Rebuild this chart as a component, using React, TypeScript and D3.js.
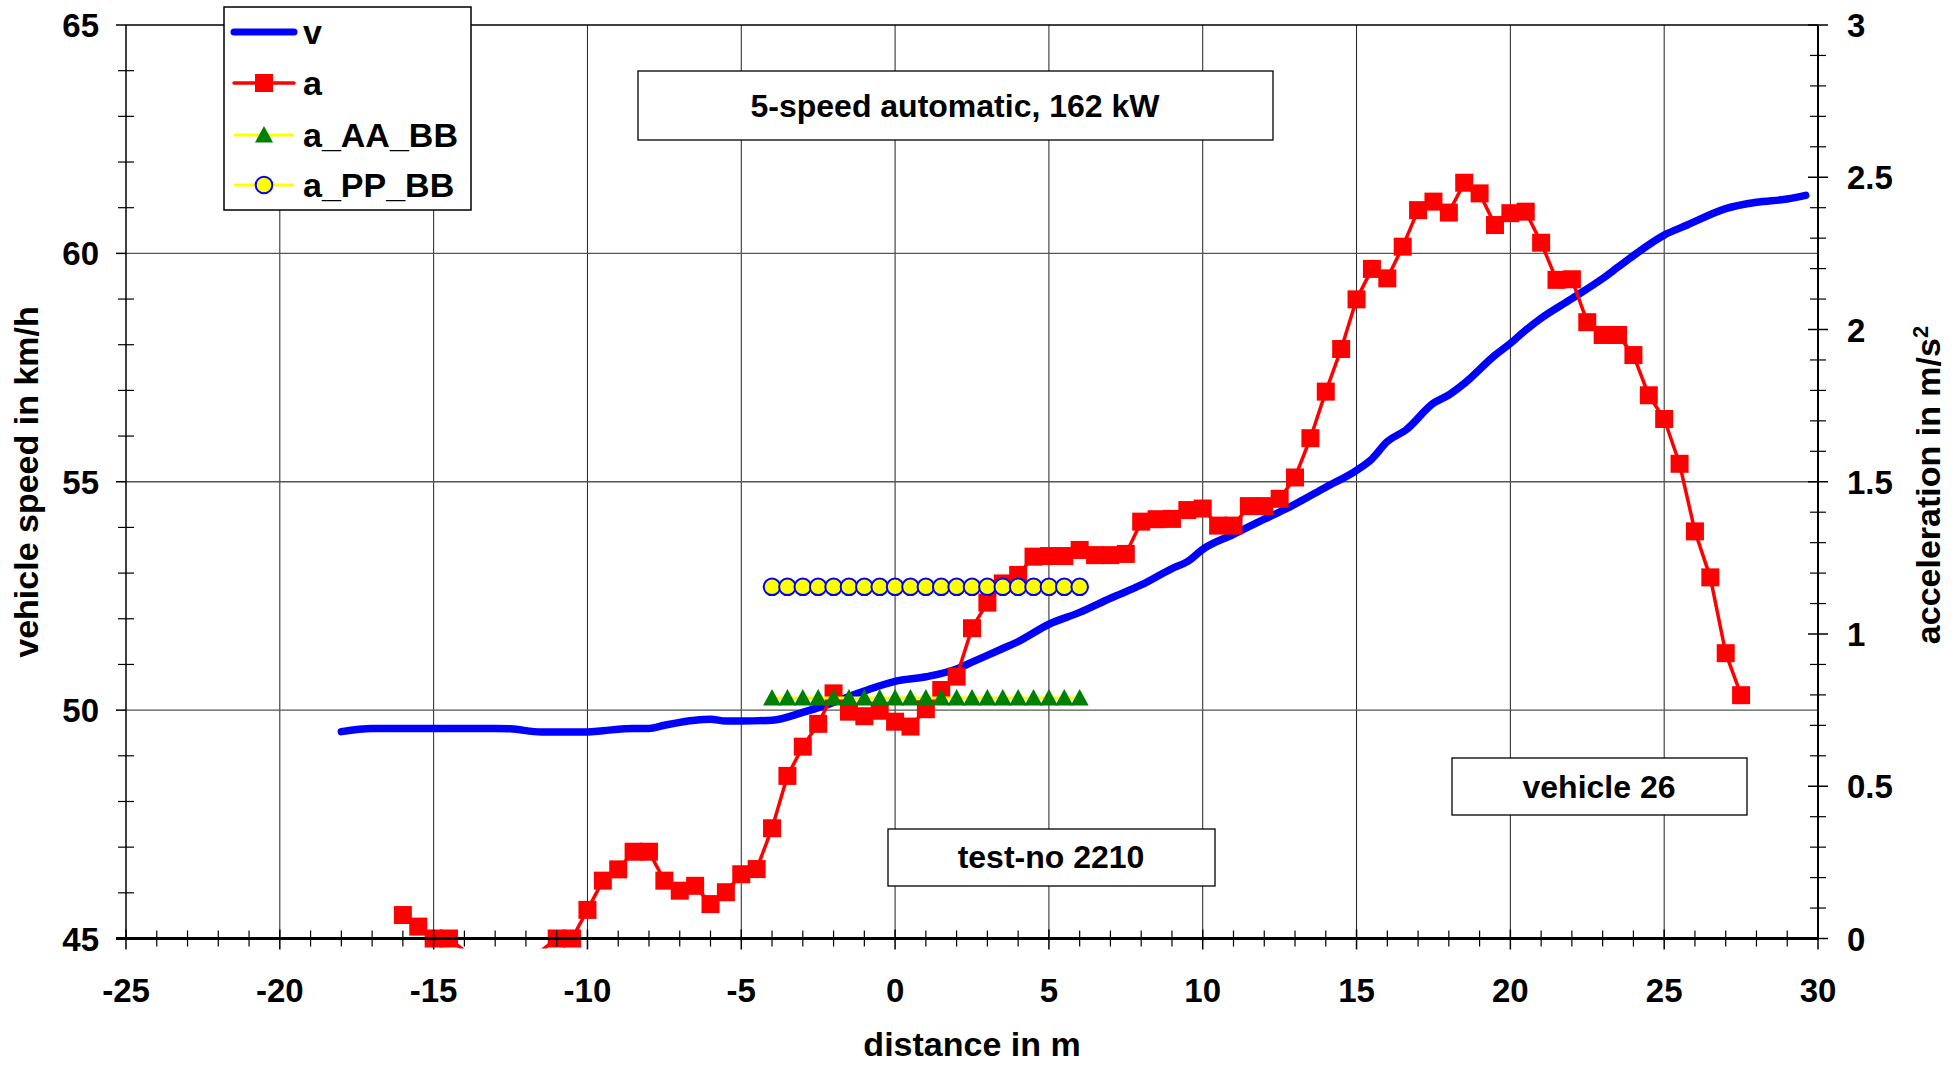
import React from 'react';
import * as d3 from 'd3';

// ---------- data ----------
const vDist = [-18, -17, -16, -15, -14, -13, -12.5, -11.5, -10, -9.5, -8.5, -8, -7.5, -6.5, -6, -5.5, -5, -4, -3, -2.25, -1, 0, 1, 2, 2.5, 3.5, 4, 5, 6, 7, 8, 9, 9.5, 10, 11, 12, 12.75, 14, 15, 15.5, 16, 16.6, 17.5, 18, 18.5, 19.5, 20, 20.5, 21, 22, 23, 23.5, 24, 25, 25.75, 27, 28, 29, 29.6];
const vSpeed = [49.53, 49.6, 49.6, 49.6, 49.6, 49.6, 49.59, 49.52, 49.52, 49.55, 49.6, 49.6, 49.67, 49.78, 49.8, 49.76, 49.76, 49.78, 49.95, 50.11, 50.42, 50.63, 50.73, 50.9, 51.05, 51.35, 51.5, 51.88, 52.14, 52.45, 52.74, 53.1, 53.25, 53.52, 53.85, 54.18, 54.42, 54.88, 55.25, 55.5, 55.88, 56.13, 56.72, 56.9, 57.15, 57.77, 58.03, 58.32, 58.58, 59.01, 59.45, 59.7, 59.95, 60.4, 60.62, 60.98, 61.12, 61.19, 61.27];

const aDist = [-16, -15.5, -15, -14.5, -14, -13.5, -13, -12.5, -12, -11.5, -11, -10.5, -10, -9.5, -9, -8.5, -8, -7.5, -7, -6.5, -6, -5.5, -5, -4.5, -4, -3.5, -3, -2.5, -2, -1.5, -1, -0.5, 0, 0.5, 1, 1.5, 2, 2.5, 3, 3.5, 4, 4.5, 5, 5.5, 6, 6.5, 7, 7.5, 8, 8.5, 9, 9.5, 10, 10.5, 11, 11.5, 12, 12.5, 13, 13.5, 14, 14.5, 15, 15.5, 16, 16.5, 17, 17.5, 18, 18.5, 19, 19.5, 20, 20.5, 21, 21.5, 22, 22.5, 23, 23.5, 24, 24.5, 25, 25.5, 26, 26.5, 27, 27.5];
const aAcc = [0.077, 0.039, 0.0, 0.0, -0.04, -0.1, -0.15, -0.15, -0.1, -0.04, 0.0, 0.0, 0.094, 0.19, 0.227, 0.285, 0.285, 0.19, 0.157, 0.173, 0.113, 0.152, 0.211, 0.228, 0.362, 0.534, 0.63, 0.705, 0.805, 0.745, 0.73, 0.748, 0.712, 0.696, 0.753, 0.816, 0.86, 1.019, 1.103, 1.166, 1.194, 1.254, 1.256, 1.256, 1.276, 1.259, 1.259, 1.263, 1.369, 1.377, 1.378, 1.407, 1.412, 1.356, 1.356, 1.42, 1.42, 1.444, 1.514, 1.643, 1.796, 1.936, 2.099, 2.199, 2.168, 2.272, 2.392, 2.42, 2.384, 2.482, 2.447, 2.343, 2.382, 2.387, 2.285, 2.163, 2.165, 2.024, 1.982, 1.982, 1.916, 1.784, 1.706, 1.559, 1.337, 1.186, 0.937, 0.799];

const bbDist = [-4, -3.5, -3, -2.5, -2, -1.5, -1, -0.5, 0, 0.5, 1, 1.5, 2, 2.5, 3, 3.5, 4, 4.5, 5, 5.5, 6];
const aAABB = [0.79, 0.79, 0.79, 0.79, 0.79, 0.79, 0.79, 0.79, 0.79, 0.79, 0.79, 0.79, 0.79, 0.79, 0.79, 0.79, 0.79, 0.79, 0.79, 0.79, 0.79];
const aPPBB = [1.155, 1.155, 1.155, 1.155, 1.155, 1.155, 1.155, 1.155, 1.155, 1.155, 1.155, 1.155, 1.155, 1.155, 1.155, 1.155, 1.155, 1.155, 1.155, 1.155, 1.155];

const xTicks = [-25, -20, -15, -10, -5, 0, 5, 10, 15, 20, 25, 30];
const yLeftTicks = [45, 50, 55, 60, 65];
const yRightTicks = [0, 0.5, 1, 1.5, 2, 2.5, 3];
const yRightLabels = ['0', '0.5', '1', '1.5', '2', '2.5', '3'];
const legendNames = ['v', 'a', 'a_AA_BB', 'a_PP_BB'];

// ---------- layout ----------
const W = 1957, H = 1066;
const L = 126, R = 1818, T = 25, B = 938.5;
const FONT = '"Liberation Sans", Arial, Helvetica, sans-serif';

export default function App() {
  const x = d3.scaleLinear().domain([-25, 30]).range([L, R]);
  const yL = d3.scaleLinear().domain([45, 65]).range([B, T]);
  const yR = d3.scaleLinear().domain([0, 3]).range([B, T]);

  const vLine = d3.line<number>().x((d, i) => x(vDist[i])).y(d => yL(d)).curve(d3.curveMonotoneX);
  const aLine = d3.line<number>().x((d, i) => x(aDist[i])).y(d => yR(d));
  const bbLineAA = d3.line<number>().x((d, i) => x(bbDist[i])).y(d => yR(d));
  const bbLinePP = d3.line<number>().x((d, i) => x(bbDist[i])).y(d => yR(d));

  const xMinor = d3.range(-25, 30.001, 1).filter(v => Math.abs(v % 5) > 0.001);
  const yLMinor = d3.range(45, 65.001, 1).filter(v => Math.abs(v % 5) > 0.001);
  const yRMinor = d3.range(0, 3.001, 0.1).filter(v => Math.abs((v * 10) % 5) > 0.01);

  const sq = 18;
  const tri = 'M0,-9 L9,7.5 L-9,7.5 Z';

  const legY = [32, 83, 135, 185];

  return (
    <svg width={W} height={H} style={{ position: 'absolute', left: 0, top: 0, background: '#fff' }} fontFamily={FONT}>
      <defs>
        <clipPath id="plotclip">
          <rect x={L} y={T} width={R - L} height={B - T + 10} />
        </clipPath>
      </defs>
      <rect x={0} y={0} width={W} height={H} fill="#fff" />

      {/* gridlines */}
      {xTicks.filter(t => t > -25 && t < 30).map(t => (
        <line key={'gx' + t} x1={x(t)} x2={x(t)} y1={T} y2={B} stroke="#222" strokeWidth={1} />
      ))}
      {yLeftTicks.filter(t => t > 45 && t < 65).map(t => (
        <line key={'gy' + t} x1={L} x2={R} y1={yL(t)} y2={yL(t)} stroke="#555" strokeWidth={1.4} />
      ))}
      {/* top border */}
      <line x1={L} x2={R} y1={T} y2={T} stroke="#000" strokeWidth={1.5} />

      {/* series v */}
      <path d={vLine(vSpeed) || ''} fill="none" stroke="#0000ff" strokeWidth={7.5} strokeLinecap="round" strokeLinejoin="round" />

      {/* series a */}
      <g clipPath="url(#plotclip)">
        <path d={aLine(aAcc) || ''} fill="none" stroke="#ff0000" strokeWidth={3.5} strokeLinejoin="round" />
      </g>
      {aAcc.map((v, i) => v >= 0 ? (
        <rect key={'am' + i} x={x(aDist[i]) - sq / 2} y={yR(v) - sq / 2} width={sq} height={sq} fill="#ff0000" />
      ) : null)}

      {/* a_AA_BB */}
      <path d={bbLineAA(aAABB) || ''} fill="none" stroke="#ffff00" strokeWidth={3} />
      {aAABB.map((v, i) => (
        <path key={'tr' + i} d={tri} transform={`translate(${x(bbDist[i])},${yR(v)})`} fill="#008000" />
      ))}

      {/* a_PP_BB */}
      <path d={bbLinePP(aPPBB) || ''} fill="none" stroke="#ffff00" strokeWidth={3} />
      {aPPBB.map((v, i) => (
        <circle key={'ci' + i} cx={x(bbDist[i])} cy={yR(v)} r={8.3} fill="#ffff00" stroke="#0000ff" strokeWidth={2} />
      ))}

      {/* axes */}
      <line x1={L} x2={L} y1={T} y2={B} stroke="#000" strokeWidth={1.5} />
      <line x1={R} x2={R} y1={T} y2={B} stroke="#000" strokeWidth={2} />
      <line x1={L - 10} x2={R + 1} y1={B} y2={B} stroke="#000" strokeWidth={3} />

      {/* x ticks */}
      {xTicks.map(t => (
        <line key={'xt' + t} x1={x(t)} x2={x(t)} y1={B - 9} y2={B + 11} stroke="#000" strokeWidth={1.5} />
      ))}
      {xMinor.map(t => (
        <line key={'xm' + t} x1={x(t)} x2={x(t)} y1={B - 8} y2={B + 8} stroke="#000" strokeWidth={1.2} />
      ))}
      {xTicks.map(t => (
        <text key={'xl' + t} x={x(t)} y={1002} textAnchor="middle" fontSize={33} fontWeight="bold">{t}</text>
      ))}

      {/* left ticks */}
      {yLeftTicks.map(t => (
        <line key={'ylt' + t} x1={L - 10} x2={L} y1={yL(t)} y2={yL(t)} stroke="#000" strokeWidth={1.5} />
      ))}
      {yLMinor.map(t => (
        <line key={'ylm' + t} x1={L - 8} x2={L + 8} y1={yL(t)} y2={yL(t)} stroke="#000" strokeWidth={1.2} />
      ))}
      {yLeftTicks.map(t => (
        <text key={'yll' + t} x={99} y={yL(t) + 12} textAnchor="end" fontSize={33} fontWeight="bold">{t}</text>
      ))}

      {/* right ticks */}
      {yRightTicks.map(t => (
        <line key={'yrt' + t} x1={R - 10} x2={R + 10} y1={yR(t)} y2={yR(t)} stroke="#000" strokeWidth={1.5} />
      ))}
      {yRMinor.map(t => (
        <line key={'yrm' + t} x1={R - 8} x2={R + 8} y1={yR(t)} y2={yR(t)} stroke="#000" strokeWidth={1.2} />
      ))}
      {yRightTicks.map((t, i) => (
        <text key={'yrl' + t} x={1847} y={yR(t) + 12} textAnchor="start" fontSize={33} fontWeight="bold">{yRightLabels[i]}</text>
      ))}

      {/* axis titles */}
      <text x={972} y={1056} textAnchor="middle" fontSize={34} fontWeight="bold">distance in m</text>
      <text transform={`translate(38,482) rotate(-90)`} textAnchor="middle" fontSize={34} fontWeight="bold">vehicle speed in km/h</text>
      <text transform={`translate(1940,485) rotate(-90)`} textAnchor="middle" fontSize={34} fontWeight="bold">
        acceleration in m/s<tspan fontSize={22} dy={-12}>2</tspan>
      </text>

      {/* text boxes */}
      <rect x={638} y={71} width={635} height={69} fill="#fff" stroke="#000" strokeWidth={1.3} />
      <text x={955} y={117} textAnchor="middle" fontSize={32} fontWeight="bold">5-speed automatic, 162 kW</text>

      <rect x={888} y={829} width={327} height={57} fill="#fff" stroke="#000" strokeWidth={1.3} />
      <text x={1051} y={868} textAnchor="middle" fontSize={32} fontWeight="bold">test-no 2210</text>

      <rect x={1452} y={758} width={295} height={57} fill="#fff" stroke="#000" strokeWidth={1.3} />
      <text x={1599} y={798} textAnchor="middle" fontSize={32} fontWeight="bold">vehicle 26</text>

      {/* legend */}
      <rect x={224} y={7} width={247} height={203} fill="#fff" stroke="#000" strokeWidth={1.5} />
      <line x1={234} x2={294} y1={legY[0]} y2={legY[0]} stroke="#0000ff" strokeWidth={7} strokeLinecap="round" />
      <line x1={234} x2={294} y1={legY[1]} y2={legY[1]} stroke="#ff0000" strokeWidth={3.5} strokeLinecap="round" />
      <rect x={264 - sq / 2} y={legY[1] - sq / 2} width={sq} height={sq} fill="#ff0000" />
      <line x1={234} x2={294} y1={legY[2]} y2={legY[2]} stroke="#ffff00" strokeWidth={3} />
      <path d={tri} transform={`translate(264,${legY[2]})`} fill="#008000" />
      <line x1={234} x2={294} y1={legY[3]} y2={legY[3]} stroke="#ffff00" strokeWidth={3} />
      <circle cx={264} cy={legY[3]} r={8.3} fill="#ffff00" stroke="#0000ff" strokeWidth={2} />
      {legendNames.map((n, i) => (
        <text key={'lg' + n} x={303} y={legY[i] + 12} fontSize={34} fontWeight="bold">{n}</text>
      ))}
    </svg>
  );
}
